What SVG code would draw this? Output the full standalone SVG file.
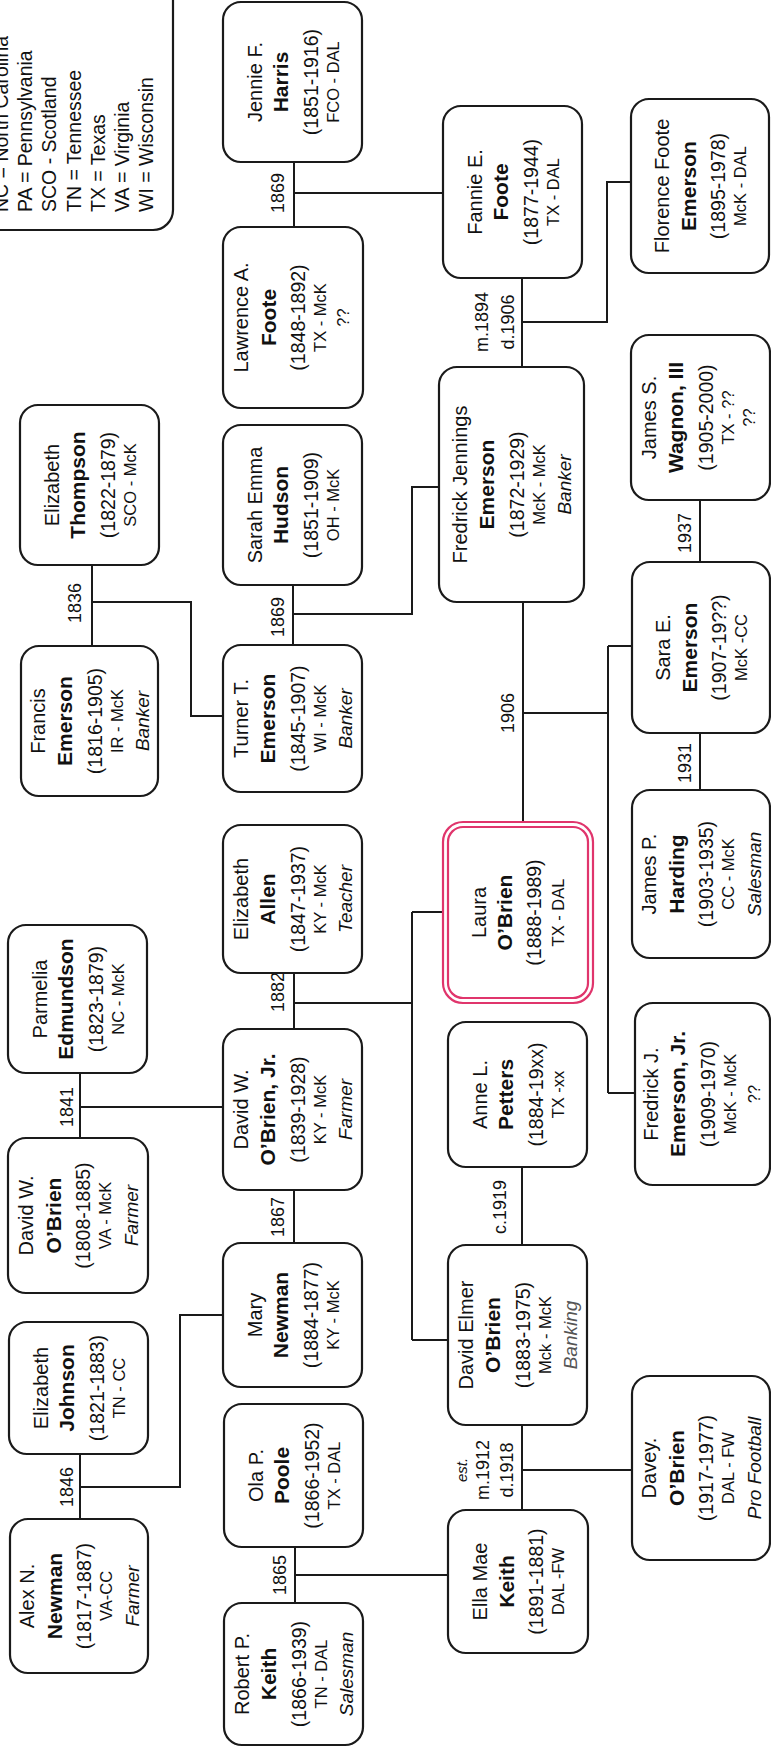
<svg xmlns="http://www.w3.org/2000/svg" width="771" height="1749" viewBox="0 0 771 1749">
<style>
.box{fill:#fff;stroke:#1a1a1a;stroke-width:2.2}
.hl{fill:none;stroke:#e0356c;stroke-width:2.2}
.t{font-family:"Liberation Sans",Arial,Helvetica,sans-serif;fill:#111;text-anchor:middle;dominant-baseline:central}
.n{font-size:20px}
.b{font-size:21px;font-weight:bold}
.d{font-size:19.5px}
.l{font-size:16.5px}
.o{font-size:19px;font-style:italic}
.m{font-size:18px}
.e{font-size:15px;font-style:italic}
.lg{font-family:"Liberation Sans",Arial,Helvetica,sans-serif;fill:#111;font-size:19.5px;text-anchor:start;dominant-baseline:central}
.conn{fill:none;stroke:#1a1a1a;stroke-width:2}
</style>
<rect width="771" height="1749" fill="#fff"/>

<g id="connectors">
<path class="conn" d="M294 162V227 M294 193H443 M522 278V367 M522 322H607V182H631 M92 565V646 M92 602H191V716H223 M293 585V645 M293 614H412V487H439 M523 602V822 M523 713H608 M608 646V1093 M608 646H632 M608 1093H635 M700 500V562 M700 733V790 M80 1073V1138 M80 1107H223 M294 973V1029 M294 1003H412 M412 912V1340 M412 912H443 M412 1340H448 M294 1190V1243 M80 1454V1519 M80 1487H180V1315H223 M522 1167V1245 M295 1547V1603 M295 1575H448 M522 1425V1510 M522 1470H632"/>
<text class="t m" transform="translate(278,193) rotate(-90)">1869</text>
<text class="t m" transform="translate(482,322) rotate(-90)">m.1894</text>
<text class="t m" transform="translate(508,322) rotate(-90)">d.1906</text>
<text class="t m" transform="translate(75,603) rotate(-90)">1836</text>
<text class="t m" transform="translate(278,617) rotate(-90)">1869</text>
<text class="t m" transform="translate(508,713) rotate(-90)">1906</text>
<text class="t m" transform="translate(685,533) rotate(-90)">1937</text>
<text class="t m" transform="translate(685,763) rotate(-90)">1931</text>
<text class="t m" transform="translate(67,1107) rotate(-90)">1841</text>
<text class="t m" transform="translate(278,992) rotate(-90)">1882</text>
<text class="t m" transform="translate(278,1217) rotate(-90)">1867</text>
<text class="t m" transform="translate(500,1207) rotate(-90)">c.1919</text>
<text class="t m" transform="translate(67,1487) rotate(-90)">1846</text>
<text class="t m" transform="translate(280,1575) rotate(-90)">1865</text>
<text class="t e" transform="translate(461,1470) rotate(-90)">est.</text>
<text class="t m" transform="translate(483,1470) rotate(-90)">m.1912</text>
<text class="t m" transform="translate(507,1470) rotate(-90)">d.1918</text>
</g>

<g id="legend">
<rect class="box" x="-40" y="-60" width="213" height="290" rx="20"/>
<text class="lg" transform="translate(1,212) rotate(-90)">NC = North Carolina</text>
<text class="lg" transform="translate(25,212) rotate(-90)">PA = Pennsylvania</text>
<text class="lg" transform="translate(49,212) rotate(-90)">SCO - Scotland</text>
<text class="lg" transform="translate(73.5,212) rotate(-90)">TN = Tennessee</text>
<text class="lg" transform="translate(97.5,212) rotate(-90)">TX = Texas</text>
<text class="lg" transform="translate(122,212) rotate(-90)">VA = Virginia</text>
<text class="lg" transform="translate(146,212) rotate(-90)">WI = Wisconsin</text>
</g>

<g id="n-jennie" transform="translate(292.5,82) rotate(-90)">
<rect class="box" x="-80" y="-69.5" width="160" height="139" rx="18"/>
<text class="t n" y="-38">Jennie F.</text><text class="t b" y="-12">Harris</text><text class="t d" y="18">(1851-1916)</text><text class="t l" y="40">FCO - DAL</text>
</g>
<g id="n-lawrence" transform="translate(293,317.5) rotate(-90)">
<rect class="box" x="-90.5" y="-70" width="181" height="140" rx="18"/>
<text class="t n" y="-52">Lawrence A.</text><text class="t b" y="-25">Foote</text><text class="t d" y="5">(1848-1892)</text><text class="t l" y="27">TX - McK</text><text class="t l" y="50">??</text>
</g>
<g id="n-fannie" transform="translate(512.5,192) rotate(-90)">
<rect class="box" x="-86" y="-69.5" width="172" height="139" rx="18"/>
<text class="t n" y="-38">Fannie E.</text><text class="t b" y="-12">Foote</text><text class="t d" y="18">(1877-1944)</text><text class="t l" y="40">TX - DAL</text>
</g>
<g id="n-florence" transform="translate(700,186) rotate(-90)">
<rect class="box" x="-87" y="-69" width="174" height="138" rx="18"/>
<text class="t n" y="-38">Florence Foote</text><text class="t b" y="-12">Emerson</text><text class="t d" y="18">(1895-1978)</text><text class="t l" y="40">McK - DAL</text>
</g>
<g id="n-thompson" transform="translate(89.5,485) rotate(-90)">
<rect class="box" x="-80" y="-69.5" width="160" height="139" rx="18"/>
<text class="t n" y="-38">Elizabeth</text><text class="t b" y="-12">Thompson</text><text class="t d" y="18">(1822-1879)</text><text class="t l" y="40">SCO - McK</text>
</g>
<g id="n-francis" transform="translate(89.5,721) rotate(-90)">
<rect class="box" x="-75" y="-68.5" width="150" height="137" rx="18"/>
<text class="t n" y="-52">Francis</text><text class="t b" y="-25">Emerson</text><text class="t d" y="5">(1816-1905)</text><text class="t l" y="27">IR - McK</text><text class="t o" y="53">Banker</text>
</g>
<g id="n-hudson" transform="translate(292.5,505) rotate(-90)">
<rect class="box" x="-80" y="-69.5" width="160" height="139" rx="18"/>
<text class="t n" y="-38">Sarah Emma</text><text class="t b" y="-12">Hudson</text><text class="t d" y="18">(1851-1909)</text><text class="t l" y="40">OH - McK</text>
</g>
<g id="n-turner" transform="translate(292.5,718.5) rotate(-90)">
<rect class="box" x="-73.5" y="-69.5" width="147" height="139" rx="18"/>
<text class="t n" y="-52">Turner T.</text><text class="t b" y="-25">Emerson</text><text class="t d" y="5">(1845-1907)</text><text class="t l" y="27">WI - McK</text><text class="t o" y="53">Banker</text>
</g>
<g id="n-fredrick" transform="translate(511.5,484.5) rotate(-90)">
<rect class="box" x="-117.5" y="-72.5" width="235" height="145" rx="18"/>
<text class="t n" y="-52">Fredrick Jennings</text><text class="t b" y="-25">Emerson</text><text class="t d" y="5">(1872-1929)</text><text class="t l" y="27">McK - McK</text><text class="t o" y="53">Banker</text>
</g>
<g id="n-wagnon" transform="translate(700.5,417.5) rotate(-90)">
<rect class="box" x="-82.5" y="-69.5" width="165" height="139" rx="18"/>
<text class="t n" y="-52">James S.</text><text class="t b" y="-25">Wagnon, III</text><text class="t d" y="5">(1905-2000)</text><text class="t l" y="27">TX - ??</text><text class="t l" y="48">??</text>
</g>
<g id="n-sara" transform="translate(701,647.5) rotate(-90)">
<rect class="box" x="-85.5" y="-69" width="171" height="138" rx="18"/>
<text class="t n" y="-38">Sara E.</text><text class="t b" y="-12">Emerson</text><text class="t d" y="18">(1907-19??)</text><text class="t l" y="40">McK -CC</text>
</g>
<g id="n-harding" transform="translate(701,874) rotate(-90)">
<rect class="box" x="-84" y="-69" width="168" height="138" rx="18"/>
<text class="t n" y="-52">James P.</text><text class="t b" y="-25">Harding</text><text class="t d" y="5">(1903-1935)</text><text class="t l" y="27">CC - McK</text><text class="t o" y="53">Salesman</text>
</g>
<g id="n-laura" transform="translate(518,912.5) rotate(-90)">
<rect x="-90.5" y="-75" width="181" height="150" rx="20" fill="#fff"/>
<rect class="hl" x="-90.5" y="-75" width="181" height="150" rx="20"/>
<rect class="hl" x="-85.5" y="-70" width="171" height="140" rx="15"/>
<text class="t n" y="-39">Laura</text><text class="t b" y="-14">O’Brien</text><text class="t d" y="16">(1888-1989)</text><text class="t l" y="40">TX - DAL</text>
</g>
<g id="n-parmelia" transform="translate(77.5,999) rotate(-90)">
<rect class="box" x="-74" y="-69.5" width="148" height="139" rx="18"/>
<text class="t n" y="-38">Parmelia</text><text class="t b" y="-12">Edmundson</text><text class="t d" y="18">(1823-1879)</text><text class="t l" y="40">NC - McK</text>
</g>
<g id="n-allen" transform="translate(292.5,899) rotate(-90)">
<rect class="box" x="-74" y="-69.5" width="148" height="139" rx="18"/>
<text class="t n" y="-52">Elizabeth</text><text class="t b" y="-25">Allen</text><text class="t d" y="5">(1847-1937)</text><text class="t l" y="27">KY - McK</text><text class="t o" y="53">Teacher</text>
</g>
<g id="n-davidw" transform="translate(78,1215.5) rotate(-90)">
<rect class="box" x="-77.5" y="-70" width="155" height="140" rx="18"/>
<text class="t n" y="-52">David W.</text><text class="t b" y="-25">O’Brien</text><text class="t d" y="5">(1808-1885)</text><text class="t l" y="27">VA - McK</text><text class="t o" y="53">Farmer</text>
</g>
<g id="n-davidjr" transform="translate(292.5,1109.5) rotate(-90)">
<rect class="box" x="-80.5" y="-69.5" width="161" height="139" rx="18"/>
<text class="t n" y="-52">David W.</text><text class="t b" y="-25">O’Brien, Jr.</text><text class="t d" y="5">(1839-1928)</text><text class="t l" y="27">KY - McK</text><text class="t o" y="53">Farmer</text>
</g>
<g id="n-anne" transform="translate(517.5,1094.5) rotate(-90)">
<rect class="box" x="-72.5" y="-69.5" width="145" height="139" rx="18"/>
<text class="t n" y="-38">Anne L.</text><text class="t b" y="-12">Petters</text><text class="t d" y="18">(1884-19xx)</text><text class="t l" y="40">TX -xx</text>
</g>
<g id="n-fredjr" transform="translate(702.5,1094) rotate(-90)">
<rect class="box" x="-91" y="-67.5" width="182" height="135" rx="18"/>
<text class="t n" y="-52">Fredrick J.</text><text class="t b" y="-25">Emerson, Jr.</text><text class="t d" y="5">(1909-1970)</text><text class="t l" y="27">McK - McK</text><text class="t l" y="51">??</text>
</g>
<g id="n-mary" transform="translate(292.5,1315) rotate(-90)">
<rect class="box" x="-72" y="-69.5" width="144" height="139" rx="18"/>
<text class="t n" y="-38">Mary</text><text class="t b" y="-12">Newman</text><text class="t d" y="18">(1884-1877)</text><text class="t l" y="40">KY - McK</text>
</g>
<g id="n-johnson" transform="translate(78.5,1388) rotate(-90)">
<rect class="box" x="-66" y="-69.5" width="132" height="139" rx="18"/>
<text class="t n" y="-38">Elizabeth</text><text class="t b" y="-12">Johnson</text><text class="t d" y="18">(1821-1883)</text><text class="t l" y="40">TN - CC</text>
</g>
<g id="n-alex" transform="translate(79,1596) rotate(-90)">
<rect class="box" x="-77" y="-69" width="154" height="138" rx="18"/>
<text class="t n" y="-52">Alex N.</text><text class="t b" y="-25">Newman</text><text class="t d" y="5">(1817-1887)</text><text class="t l" y="27">VA-CC</text><text class="t o" y="53">Farmer</text>
</g>
<g id="n-poole" transform="translate(293.5,1475.5) rotate(-90)">
<rect class="box" x="-71.5" y="-69.5" width="143" height="139" rx="18"/>
<text class="t n" y="-38">Ola P.</text><text class="t b" y="-12">Poole</text><text class="t d" y="18">(1866-1952)</text><text class="t l" y="40">TX - DAL</text>
</g>
<g id="n-robert" transform="translate(293.5,1674) rotate(-90)">
<rect class="box" x="-71" y="-69.5" width="142" height="139" rx="18"/>
<text class="t n" y="-52">Robert P.</text><text class="t b" y="-25">Keith</text><text class="t d" y="5">(1866-1939)</text><text class="t l" y="27">TN - DAL</text><text class="t o" y="53">Salesman</text>
</g>
<g id="n-davidelmer" transform="translate(517.5,1335) rotate(-90)">
<rect class="box" x="-90" y="-69.5" width="180" height="139" rx="18"/>
<text class="t n" y="-52">David Elmer</text><text class="t b" y="-25">O’Brien</text><text class="t d" y="5">(1883-1975)</text><text class="t l" y="27">Mck - McK</text><text class="t o" y="53" style="fill:#555">Banking</text>
</g>
<g id="n-ellamae" transform="translate(518,1581.5) rotate(-90)">
<rect class="box" x="-71.5" y="-70" width="143" height="140" rx="18"/>
<text class="t n" y="-38">Ella Mae</text><text class="t b" y="-12">Keith</text><text class="t d" y="18">(1891-1881)</text><text class="t l" y="40">DAL -FW</text>
</g>
<g id="n-davey" transform="translate(701,1468) rotate(-90)">
<rect class="box" x="-92" y="-69" width="184" height="138" rx="18"/>
<text class="t n" y="-52">Davey.</text><text class="t b" y="-25">O’Brien</text><text class="t d" y="5">(1917-1977)</text><text class="t l" y="27">DAL - FW</text><text class="t o" y="53">Pro Football</text>
</g>
</svg>
